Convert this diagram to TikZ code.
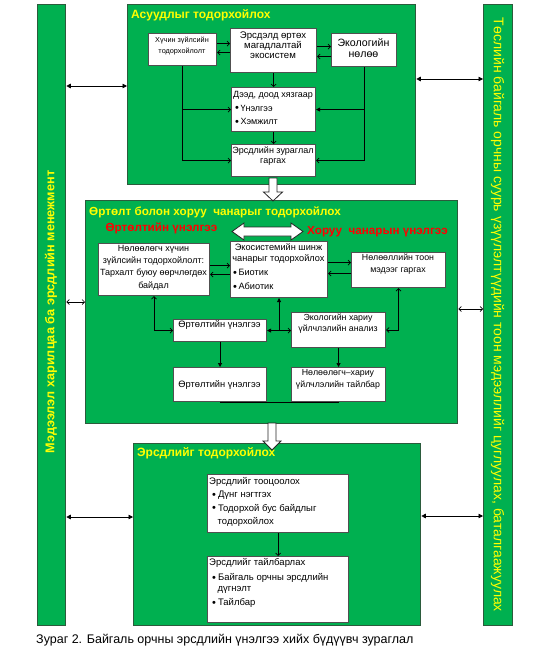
\documentclass[tikz,border=0pt]{standalone}
\usepackage{fontspec}
\setmainfont{Liberation Sans}
\usetikzlibrary{arrows.meta,calc}
\definecolor{pgreen}{HTML}{00B050}
\definecolor{pborder}{HTML}{2B5B3C}
\definecolor{bgray}{HTML}{505050}
\definecolor{tyellow}{HTML}{FFFF00}
\definecolor{tred}{HTML}{FF0000}
\newcommand\bl{\raisebox{-0.5pt}{\fontsize{11}{0}\selectfont•}}
\begin{document}
\begin{tikzpicture}[x=1pt,y=-1pt,
  panel/.style={draw=pborder,fill=pgreen,line width=1.3pt,anchor=north west,inner sep=0pt},
  box/.style={draw=bgray,fill=white,line width=1.1pt,anchor=north west,inner sep=0pt},
  bt/.style={inner sep=0pt,align=center},
  btl/.style={inner sep=0pt,align=left,anchor=west},
  ttl/.style={inner sep=0pt,anchor=west,text=tyellow,font=\bfseries\fontsize{12}{13}\selectfont},
  redt/.style={inner sep=0pt,text=tred,font=\bfseries\fontsize{11.7}{12}\selectfont},
  conn/.style={line width=0.7pt,black},
  oa/.style={conn,-{Straight Barb[length=2.5pt,width=5pt]}},
  oab/.style={conn,{Straight Barb[length=2.5pt,width=5pt]}-{Straight Barb[length=2.5pt,width=5pt]}},
  fa/.style={conn,-{Triangle[length=4pt,width=4pt]}},
  fab/.style={conn,{Triangle[length=4.5pt,width=4.5pt]}-{Triangle[length=4.5pt,width=4.5pt]}},
  hollow/.style={draw=black!85,fill=white,line width=0.8pt,line join=miter}
]
\useasboundingbox (0,0) rectangle (533,661);
\fill[white] (0,0) rectangle (533,661);

% side bars
\node[panel,minimum width=28pt,minimum height=621pt] (lb) at (37,4) {};
\node[panel,minimum width=29pt,minimum height=621pt] (rb) at (483,4) {};
\node[rotate=90,inner sep=0pt,text=tyellow,font=\bfseries\fontsize{12.7}{13}\selectfont] (lbT) at (51,312) {Мэдээлэл харилцаа ба эрсдлийн менежмент};
\node[rotate=-90,inner sep=0pt,text=tyellow,font=\fontsize{14}{15}\selectfont] (rbT) at (497.5,315) {Төслийн байгаль орчны суурь үзүүлэлтүүдийн тоон мэдээллийг цуглуулах, баталгаажуулах};

% panels
\node[panel,minimum width=288pt,minimum height=180pt] (p1) at (127,4) {};
\node[panel,minimum width=372pt,minimum height=223pt] (p2) at (85,200) {};
\node[panel,minimum width=287pt,minimum height=182pt] (p3) at (133,443) {};

\node[ttl] (t1) at (131,15) {Асуудлыг тодорхойлох};
\node[ttl,font=\bfseries\fontsize{11.7}{13}\selectfont] (t2) at (89,212) {Өртөлт болон хоруу\ \ чанарыг тодорхойлох};
\node[ttl] (t3) at (137,453) {Эрсдлийг тодорхойлох};

% top boxes
\node[box,minimum width=68pt,minimum height=32pt] (hf) at (148,33) {};
\node[box,minimum width=86pt,minimum height=44pt] (er) at (230,28) {};
\node[box,minimum width=65pt,minimum height=33pt] (eco) at (331,33) {};
\node[box,minimum width=84pt,minimum height=44pt] (ud) at (231,87) {};
\node[box,minimum width=84pt,minimum height=32pt] (zr) at (231,144) {};

\node[bt,font=\fontsize{7.3}{11}\selectfont] (hfT) at (182,46.5) {Хүчин зүйлсийн\\тодорхойлолт};
\node[bt,font=\fontsize{9.6}{10}\selectfont] (erT) at (273,45) {Эрсдэлд өртөх\\магадлалтай\\экосистем};
\node[bt,font=\fontsize{10.6}{10.5}\selectfont] (ecoT) at (363.5,48) {Экологийн\\нөлөө};
\node[btl,font=\fontsize{9}{13.5}\selectfont] (udT) at (233,108.5) {Дээд, доод хязгаар\\\hspace{2pt}\bl\hspace{1.5pt}Үнэлгээ\\\hspace{2pt}\bl\hspace{1.5pt}Хэмжилт};
\node[bt,font=\fontsize{9}{10}\selectfont] (zrT) at (273,156) {Эрсдлийн зураглал\\гаргах};

% top connectors
\coordinate (c1) at ([yshift=6pt]hf.east);
\draw[oa] (c1) -- (c1 -| er.west);
\coordinate (c2) at ([yshift=-3pt]hf.east);
\draw[oa] (c2 -| er.west) -- (c2);
\coordinate (c3) at ([yshift=4pt]er.east);
\draw[oa] (c3) -- (c3 -| eco.west);
\coordinate (c4) at ([yshift=-6pt]er.east);
\draw[oa] (c4 -| eco.west) -- (c4);
\draw[oa] (er.south) -- (ud.north);
\draw[oa] (ud.south) -- (zr.north);
\draw[oa] (hf.south) |- (ud.west);
\draw[oa] (hf.south) |- (zr.west);
\draw[fa] (eco.south) |- (ud.east);
\draw[oa] (eco.south) |- (zr.east);

% middle
\node[redt] (r1) at (161.5,228.5) {Өртөлтийн үнэлгээ};
\node[redt] (r2) at (377.5,232) {Хоруу\ \ чанарын үнэлгээ};
\coordinate (dA) at (267.5,231.5);
\draw[hollow] ($(dA)+(-35.5,0)$) -- ($(dA)+(-23.5,-8.5)$) -- ($(dA)+(-23.5,-4.5)$) -- ($(dA)+(23.5,-4.5)$) -- ($(dA)+(23.5,-8.5)$) -- ($(dA)+(35.5,0)$) -- ($(dA)+(23.5,8.5)$) -- ($(dA)+(23.5,4.5)$) -- ($(dA)+(-23.5,4.5)$) -- ($(dA)+(-23.5,8.5)$) -- cycle;

\node[box,minimum width=111pt,minimum height=52pt] (ni) at (98,243) {};
\node[box,minimum width=97pt,minimum height=56pt] (es) at (230,241) {};
\node[box,minimum width=94pt,minimum height=35pt] (nt) at (351,252) {};
\node[box,minimum width=93pt,minimum height=22pt] (ou) at (173,319) {};
\node[box,minimum width=94pt,minimum height=35pt] (ea) at (291,312) {};
\node[box,minimum width=93pt,minimum height=34pt] (ol) at (173,367) {};
\node[box,minimum width=94pt,minimum height=34pt] (nh) at (291,367) {};

\node[bt,font=\fontsize{9}{12.3}\selectfont] (niT) at (153.5,267.5) {Нөлөөлөгч хүчин\\зүйлсийн тодорхойлолт:\\Тархалт буюу өөрчлөгдөх\\байдал};
\node[bt,font=\fontsize{9.2}{11}\selectfont] (esT1) at (278.5,253.5) {Экосистемийн шинж\\чанарыг тодорхойлох};
\node[btl,font=\fontsize{9.2}{14}\selectfont] (esT2) at (233,280) {\bl\hspace{1.5pt}Биотик\\\bl\hspace{1.5pt}Абиотик};
\node[bt,font=\fontsize{8.8}{12}\selectfont] (ntT) at (398,264) {Нөлөөллийн тоон\\мэдээг гаргах};
\node[bt,font=\fontsize{9.3}{11}\selectfont] (ouT) at (219.5,325) {Өртөлтийн үнэлгээ};
\node[bt,font=\fontsize{8.8}{11}\selectfont] (eaT) at (338,323.5) {Экологийн хариу\\үйлчлэлийн анализ};
\node[bt,font=\fontsize{9.3}{11}\selectfont] (olT) at (219.5,385) {Өртөлтийн үнэлгээ};
\node[bt,font=\fontsize{8.8}{12}\selectfont] (nhT) at (338,379) {Нөлөөлөгч–хариу\\үйлчлэлийн тайлбар};

\coordinate (m1) at ([yshift=4pt]ni.east);
\draw[oa] (m1) -- (m1 -| es.west);
\coordinate (m2) at ([yshift=-5pt]ni.east);
\draw[oa] (m2 -| es.west) -- (m2);
\coordinate (m3) at ([yshift=7pt]es.east);
\draw[oa] (m3) -- (m3 -| nt.west);
\coordinate (m4) at ([yshift=-4pt]es.east);
\draw[oa] (m4 -| nt.west) -- (m4);
\draw[oab] (ni.south) |- (ou.west);
\draw[conn,{Triangle[length=4pt,width=4pt]}-{Straight Barb[length=2.5pt,width=5pt]}] (ou.east) -- (ou.east -| ea.west);
\draw[fa] (es.south |- ou.east) -- (es.south);
\draw[oab] (ea.east) -| (nt.south);
\draw[fa] (ou.south) -- (ol.north);
\draw[fa] (ea.south) -- (nh.north);
\draw[conn] (ol.south) -- (nh.south);

% bottom
\node[box,minimum width=141pt,minimum height=58pt] (rc) at (207,474) {};
\node[box,minimum width=141pt,minimum height=66pt] (rt) at (207,556) {};
\node[btl,font=\fontsize{9.5}{13.3}\selectfont] (rcT) at (209,502) {Эрсдлийг тооцоолох\\\hspace{3pt}\bl\hspace{2pt}Дүнг нэгтгэх\\\hspace{3pt}\bl\hspace{2pt}Тодорхой бус байдлыг\\\hspace{8.5pt}тодорхойлох};
\node[btl,font=\fontsize{9.5}{11}\selectfont] (rtT) at (209,583) {Эрсдлийг тайлбарлах\\[4pt]\hspace{3pt}\bl\hspace{2pt}Байгаль орчны эрсдлийн\\\hspace{8.5pt}дүгнэлт\\[3pt]\hspace{3pt}\bl\hspace{2pt}Тайлбар};
\draw[oa] (rc.south) -- (rt.north);

% side connectors
\coordinate (yA) at (0,86);
\coordinate (yB) at (0,79);
\coordinate (yC) at (0,302);
\coordinate (yD) at (0,309);
\coordinate (yE) at (0,517);
\coordinate (yF) at (0,516);
\draw[fab] (lb.east |- yA) -- (p1.west |- yA);
\draw[fab] (p1.east |- yB) -- (rb.west |- yB);
\draw[oab] (lb.east |- yC) -- (p2.west |- yC);
\draw[oab] (p2.east |- yD) -- (rb.west |- yD);
\draw[fab] (lb.east |- yE) -- (p3.west |- yE);
\draw[fab] (p3.east |- yF) -- (rb.west |- yF);

% wide arrows between panels
\draw[hollow] (269,178) -- (269,192) -- (263.5,192) -- (273,201) -- (282.5,192) -- (277,192) -- (277,178) -- cycle;
\draw[hollow] (268,423) -- (268,441) -- (263,441) -- (272,450) -- (281,441) -- (276,441) -- (276,423) -- cycle;

% caption
\node[inner sep=0pt,anchor=west,font=\fontsize{12.5}{13}\selectfont] (cap) at (36,640) {Зураг 2. Байгаль орчны эрсдлийн үнэлгээ хийх бүдүүвч зураглал};
\end{tikzpicture}
\end{document}
